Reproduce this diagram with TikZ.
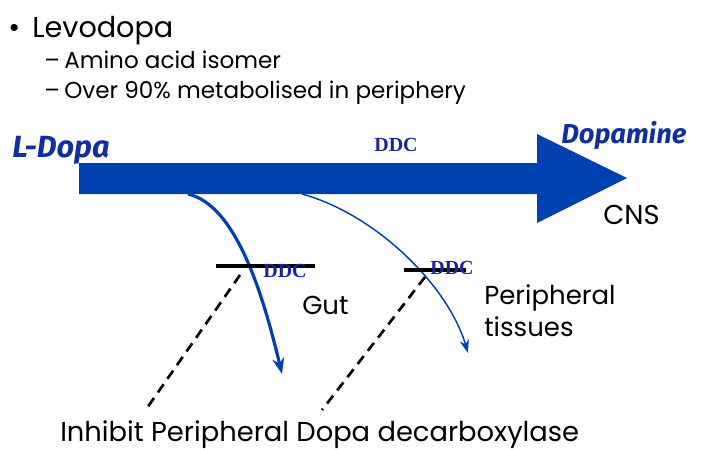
\documentclass[tikz,border=0pt]{standalone}
\usepackage{fontspec}
\setmainfont{Poppins}
\newfontfamily\ddcfont{Liberation Serif}
\newfontfamily\handfont{Fira Sans}
\usepackage{xcolor}
\usetikzlibrary{arrows.meta, positioning}

\definecolor{arrowblue}{RGB}{0,64,176}
\definecolor{ddcblue}{RGB}{30,36,150}
\definecolor{labelblue}{RGB}{16,48,160}

\begin{document}
\begin{tikzpicture}[
  x=0.75pt, y=-0.75pt,
  txt/.style={inner sep=0pt, anchor=base west, font=\fontsize{19.5}{22}\selectfont},
  item/.style={txt, font=\fontsize{17.3}{20}\selectfont},
  ddc/.style={inner sep=0pt, text=ddcblue, font=\ddcfont\bfseries\fontsize{15}{17}\selectfont},
  blue label/.style={inner sep=0pt, anchor=base west, text=labelblue,
                     font=\handfont\bfseries\itshape\fontsize{20.5}{24}\selectfont},
  bar/.style={line width=3.5pt, black},
  path arr/.style={arrowblue, -{Stealth[length=10pt, width=7pt]}},
  inhibit line/.style={line width=2pt, dash pattern=on 7.5pt off 5pt},
]
  \useasboundingbox (0,0) rectangle (704,450);

  % heading
  \node[txt, font=\fontsize{21.5}{25}\selectfont] (head) at (32,37) {Levodopa};
  \node[txt, font=\fontsize{21.5}{25}\selectfont] at (8,37) {\textbullet};
  \node[item] (item1) at (64,68) {Amino acid isomer};
  \node[item] at (44,68) {--};
  \node[item] (item2) at (64,98) {Over 90\% metabolised in periphery};
  \node[item] at (44,98) {--};

  % main arrow
  \fill[arrowblue] (79,163) -- (537,163) -- (537,134) -- (627,178)
    -- (537,223) -- (537,194) -- (79,194) -- cycle;
  \node[blue label, font=\handfont\bfseries\itshape\fontsize{23}{26}\selectfont]
    (ldopa) at (12,157) {L-Dopa};
  \node[blue label] (dopa) at (561,143) {Dopamine};
  \node[ddc] (ddcmain) at (396,145) {DDC};
  \node[txt, font=\fontsize{20.5}{23}\selectfont] (cns) at (603,224) {CNS};

  % side routes
  \coordinate (gutstart) at (188,194);
  \coordinate (gutend) at (282,374);
  \coordinate (perstart) at (302,194);
  \coordinate (perend) at (468,353);
  \draw[path arr, line width=2.4pt, -{Stealth[length=12pt, width=9pt]}]
    (gutstart) .. controls (235,205) and (262,290) .. (gutend);
  \draw[path arr, line width=1.1pt]
    (perstart) .. controls (375,214) and (448,285) .. (perend);

  % DDC blocks
  \coordinate (bar1a) at (216,266);
  \coordinate (bar1b) at (315,266);
  \coordinate (bar2a) at (404,270);
  \coordinate (bar2b) at (466,270);
  \draw[bar] (bar1a) -- (bar1b);
  \draw[bar] (bar2a) -- (bar2b);
  \node[ddc] (ddcgut) at (285,271) {DDC};
  \node[ddc] (ddcper) at (452,268) {DDC};

  \node[txt] (gut) at (302,314) {Gut};
  \node[txt] (periph) at (484,304) {Peripheral};
  \node[txt] (tiss) at (484,336) {tissues};

  % inhibitor
  \node[txt, font=\fontsize{20.5}{23}\selectfont] (inhibit) at (60,441)
    {Inhibit Peripheral Dopa decarboxylase};
  \coordinate (dash1top) at (240,275);
  \coordinate (dash1end) at (147,408);
  \coordinate (dash2top) at (425,277);
  \coordinate (dash2end) at (322,410);
  \draw[inhibit line] (dash1top) -- (dash1end);
  \draw[inhibit line] (dash2top) -- (dash2end);
\end{tikzpicture}
\end{document}
